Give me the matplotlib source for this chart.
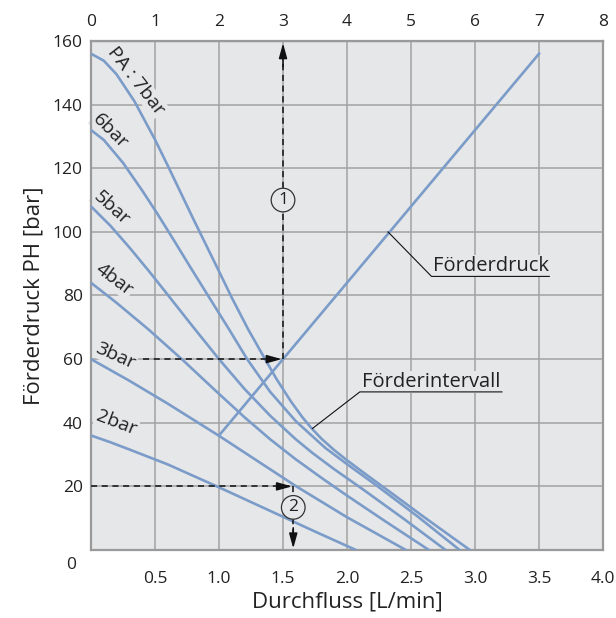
import matplotlib
matplotlib.use("Agg")
import matplotlib.pyplot as plt
import numpy as np

plt.rcParams['font.family'] = ['Open Sans', 'DejaVu Sans']

# pressure curves (flow L/min, pressure bar)
x7 = [0, 0.1, 0.2, 0.34, 0.5, 0.6, 0.8, 1.0, 1.1, 1.23, 1.36, 1.45, 1.56, 1.65, 1.72, 1.8, 1.9, 2.0, 2.15, 2.3, 2.6, 2.96]
y7 = [156, 153.8, 149.5, 141, 129, 120.8, 104, 87.6, 79.3, 69.2, 60, 53.7, 46.8, 41.8, 38.4, 35, 31.4, 28.2, 23.7, 19.3, 10.4, 0]
x6 = [0, 0.1, 0.25, 0.4, 0.52, 0.65, 0.77, 0.9, 1.078, 1.22, 1.4, 1.6, 1.83, 2.0, 2.23, 2.55, 2.88]
y6 = [132, 128.9, 121.7, 113, 105.6, 97.2, 89.3, 80.9, 69.4, 60, 49.7, 40.5, 32.1, 27, 20.3, 10.6, 0]
x5 = [0, 0.15, 0.3, 0.45, 0.6, 0.8, 1.0, 1.2, 1.4, 1.6, 1.73, 1.9, 2.13, 2.45, 2.77]
y5 = [108, 102, 95.1, 87.8, 80.2, 70, 60, 50.6, 42.2, 34.8, 30.5, 25.4, 18.9, 9.6, 0]
x4 = [0, 0.2, 0.45, 0.72, 0.97, 1.2, 1.4, 1.6, 1.8, 2.0, 2.3, 2.64]
y4 = [84, 77.7, 69.3, 59.6, 50.2, 41.7, 34.8, 28.5, 22.7, 17.1, 9.0, 0]
x3 = [0, 0.3, 0.6, 1.0, 1.3, 1.6, 2.0, 2.46]
y3 = [60, 53.2, 46, 35.9, 28, 20.1, 10.3, 0]
x2 = [0, 0.15, 0.3, 0.6, 1.0, 1.4, 1.75, 2.07]
y2 = [36, 33.9, 31.6, 26.9, 19.7, 12.3, 5.8, 0]
curves = [(x7, y7), (x6, y6), (x5, y5), (x4, y4), (x3, y3), (x2, y2)]

# Förderdruck line
xd = [1.0, 3.5]
yd = [36, 156]

curve_labels = ['PA : 7bar', '6bar', '5bar', '4bar', '3bar', '2bar']
label_pos = [(0.35, 147.5), (0.15, 131.5), (0.16, 107.5), (0.18, 85), (0.19, 61), (0.2, 40)]
label_rot = [-52, -45, -42, -37, -24, -21]

bottom_ticks = [0.5, 1.0, 1.5, 2.0, 2.5, 3.0, 3.5, 4.0]
top_ticks = [0, 1, 2, 3, 4, 5, 6, 7, 8]
y_ticks = [20, 40, 60, 80, 100, 120, 140, 160]

bg = '#e6e7e9'
blue = '#7b9cc9'
gridc = '#a3a3a3'
txt = '#222222'

fig = plt.figure(figsize=(6.16, 6.18), dpi=100)
ax = fig.add_axes([0.1477, 0.110, 0.8313, 0.8237])
ax.set_facecolor(bg)
ax.set_xlim(0, 4)
ax.set_ylim(0, 160)
ax.set_xticks(np.arange(0, 4.01, 0.5))
ax.set_xticklabels([''] + ['%.1f' % t for t in bottom_ticks])
ax.set_yticks(y_ticks)
ax.grid(True, color=gridc, lw=1.1)
ax.set_axisbelow(True)
for s in ax.spines.values():
    s.set_color('#9a9a9a')
    s.set_linewidth(1.6)
ax.tick_params(axis='x', length=0, pad=15, labelsize=12.5, colors=txt)
ax.tick_params(axis='y', length=0, pad=6, labelsize=12.5, colors=txt)

top = ax.secondary_xaxis('top', functions=(lambda v: v * 2, lambda v: v / 2))
top.set_xticks(top_ticks)
top.tick_params(length=0, pad=8, labelsize=12.5, colors=txt)

ax.annotate('0', xy=(0, 0), xycoords='axes fraction', xytext=(-14, -11),
            textcoords='offset points', ha='center', va='center', fontsize=12.5, color=txt)

ax.set_xlabel('Durchfluss [L/min]', fontsize=16, color=txt, labelpad=3)
ax.set_ylabel('Förderdruck PH [bar]', fontsize=16, color=txt, labelpad=6)

for cx, cy in curves:
    ax.plot(cx, cy, color=blue, lw=1.9, zorder=3)
ax.plot(xd, yd, color=blue, lw=1.9, zorder=3)

for t, (lx, ly), r in zip(curve_labels, label_pos, label_rot):
    ax.text(lx, ly, t, rotation=r, ha='center', va='center', fontsize=14, color=txt,
            rotation_mode='anchor', zorder=2,
            bbox=dict(boxstyle='square,pad=0.05', fc=bg, ec='none'))

# dashed helper lines
dash = dict(color='#111', lw=1.1, ls=(0, (4, 3)), zorder=4)
ax.plot([1.5, 1.5], [60, 158], **dash)
ax.plot([0.41, 1.47], [60, 60], **dash)
ax.plot([0, 1.55], [20, 20], **dash)
ax.plot([1.58, 1.58], [20, 2], **dash)
head = dict(arrowstyle='-|>,head_length=0.9,head_width=0.25', color='#111', lw=1.1, shrinkA=0, shrinkB=0)
ax.annotate('', xy=(1.5, 159.3), xytext=(1.5, 152), arrowprops=head, zorder=5)
ax.annotate('', xy=(1.49, 60), xytext=(1.38, 60), arrowprops=head, zorder=5)
ax.annotate('', xy=(1.57, 20), xytext=(1.46, 20), arrowprops=head, zorder=5)
ax.annotate('', xy=(1.58, 0.5), xytext=(1.58, 7), arrowprops=head, zorder=5)

circ = dict(boxstyle='circle,pad=0.22', fc=bg, ec='#333', lw=0.9)
ax.text(1.5, 110, '1', ha='center', va='center', fontsize=12.5, color=txt, bbox=circ, zorder=6)
ax.text(1.58, 13.4, '2', ha='center', va='center', fontsize=12.5, color=txt, bbox=circ, zorder=6)

# callouts
ax.text(2.67, 87.6, 'Förderdruck', ha='left', va='baseline', fontsize=14.5, color=txt, zorder=5,
        bbox=dict(boxstyle='square,pad=0.05', fc=bg, ec='none'))
ax.plot([2.32, 2.66, 3.58], [100, 86, 86], color='#111', lw=0.8, zorder=6)
ax.text(2.12, 51.2, 'Förderintervall', ha='left', va='baseline', fontsize=14.5, color=txt, zorder=5,
        bbox=dict(boxstyle='square,pad=0.05', fc=bg, ec='none'))
ax.plot([1.73, 2.10, 3.21], [38.2, 49.7, 49.7], color='#111', lw=0.8, zorder=6)

fig.savefig('out.png', dpi=100, facecolor='white')
